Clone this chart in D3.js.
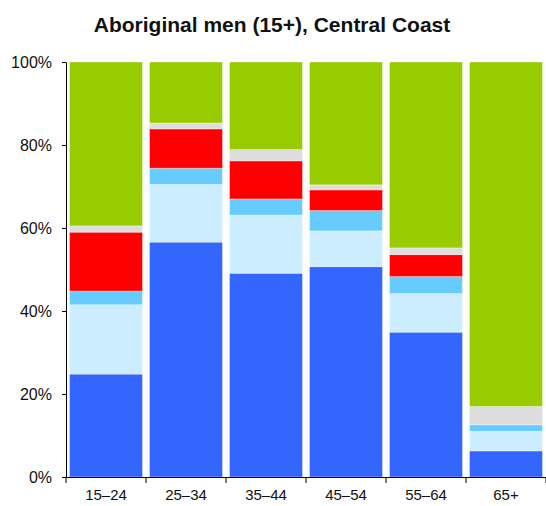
<!DOCTYPE html>
<html>
<head>
<meta charset="utf-8">
<script src="https://cdn.jsdelivr.net/npm/d3@7"></script>
<style>
  html, body { margin: 0; padding: 0; background: #fff; }
  text { font-family: "Liberation Sans", Arial, Helvetica, sans-serif; fill: #111; }
</style>
</head>
<body>
<svg id="chart" width="546" height="506"></svg>
<script>
const categories = ["15–24", "25–34", "35–44", "45–54", "55–64", "65+"];
const seriesNames = ["s1", "s2", "s3", "s4", "s5", "s6"];
const s1 = [24.8, 56.6, 49.1, 50.7, 34.9, 6.3];
const s2 = [16.7, 13.9, 14.0, 8.6, 9.3, 4.7];
const s3 = [3.3, 3.9, 3.9, 4.9, 4.1, 1.6];
const s4 = [14.2, 9.5, 9.2, 5.0, 5.3, 0.0];
const s5 = [1.5, 1.4, 2.7, 1.2, 1.6, 4.4];
const s6 = [39.5, 14.7, 21.1, 29.6, 44.8, 83.0];
const colors = ["#3366FF", "#CCECFF", "#66CCFF", "#FF0000", "#DDDDDD", "#99CC00"];
const yTicks = [0, 20, 40, 60, 80, 100];
const title = "Aboriginal men (15+), Central Coast";

(function () {
const seriesVals = [s1, s2, s3, s4, s5, s6];
const rows = categories.map((c, i) => {
  const r = { cat: c };
  seriesNames.forEach((s, k) => r[s] = seriesVals[k][i]);
  return r;
});
const stacked = d3.stack().keys(seriesNames)(rows);

const svg = d3.select("#chart");
const mLeft = 66, mRight = 546, mTop = 62, mBottom = 477;

const x = d3.scaleBand().domain(categories).range([mLeft, mRight])
  .paddingInner(0.0875).paddingOuter(0.04375);
const y = d3.scaleLinear().domain([0, 100]).range([mBottom, mTop]);

svg.append("text")
  .attr("x", 272).attr("y", 32)
  .attr("text-anchor", "middle")
  .style("font-size", "21px").style("font-weight", "bold")
  .text(title);

const g = svg.append("g");
stacked.forEach((layer, k) => {
  g.selectAll(null).data(layer).enter().append("rect")
    .attr("x", d => x(d.data.cat))
    .attr("width", x.bandwidth())
    .attr("y", d => y(d[1]))
    .attr("height", d => Math.max(0, y(d[0]) - y(d[1])))
    .attr("fill", colors[k])
    .attr("stroke", "#fff").attr("stroke-opacity", d => (d[1] - d[0]) > 0 ? 0.35 : 0)
    .attr("stroke-width", 1);
});

const yAxis = d3.axisLeft(y).tickValues(yTicks).tickFormat(d => d + "%")
  .tickSize(4).tickSizeOuter(0).tickPadding(10);
const ya = svg.append("g").attr("transform", `translate(${mLeft},0)`).call(yAxis);
ya.selectAll("text").style("font-size", "16px");
ya.selectAll("line, path").attr("stroke", "#000");

const xAxis = d3.axisBottom(x).tickSize(0).tickPadding(12);
const xa = svg.append("g").attr("transform", `translate(0,${mBottom})`).call(xAxis);
xa.selectAll("text").style("font-size", "15px");
xa.select("path").attr("stroke", "#000").attr("d", `M${mLeft},0.5H${mRight}`);
const bounds = categories.map(c => x(c) - x.step() * x.paddingInner() / 2);
bounds.push(mRight);
xa.selectAll(".btick").data(bounds).enter().append("line")
  .attr("class", "btick")
  .attr("x1", d => d).attr("x2", d => d)
  .attr("y1", 0).attr("y2", 6)
  .attr("stroke", "#000");
})();
</script>
</body>
</html>
